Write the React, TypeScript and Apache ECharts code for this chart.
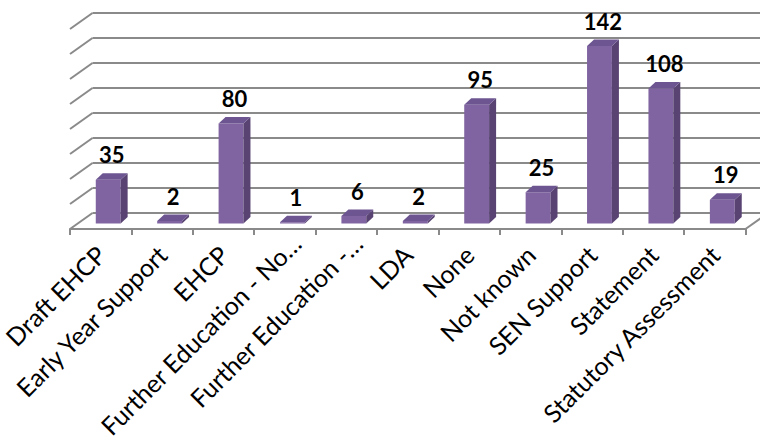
import React, { useEffect, useRef } from "react";
import * as echarts from "echarts";

const categories = [
  "Draft EHCP",
  "Early Year Support",
  "EHCP",
  "Further Education - No…",
  "Further Education -…",
  "LDA",
  "None",
  "Not known",
  "SEN Support",
  "Statement",
  "Statutory Assessment",
];
const counts = [35, 2, 80, 1, 6, 2, 95, 25, 142, 108, 19];
const gridValues = [0, 20, 40, 60, 80, 100, 120, 140, 160];

// oblique projection offsets (pixels)
const WALL_DX = 22.5;
const WALL_DY = -16;
const BAR_FRONT_DX = 7.5;
const BAR_FRONT_DY = -5.5;
const BAR_DEPTH_DX = 7;
const BAR_DEPTH_DY = -6.5;
const BAR_WIDTH_RATIO = 0.405;

const GRID_COLOR = "#8a8a8a";
const FRONT_COLOR = "#8064a2";
const SIDE_COLOR = "#584372";
const TOP_COLOR = "#6c5590";

export default function App() {
  const ref = useRef<HTMLDivElement>(null);

  useEffect(() => {
    document.body.style.margin = "0";
    if (!ref.current) return;
    const chart = echarts.init(ref.current, undefined, { renderer: "svg" });

    const wallItem = (params: any, api: any) => {
      const v = api.value(1);
      const cs = params.coordSys;
      const y = api.coord([0, v])[1];
      const xL = cs.x;
      const xR = cs.x + cs.width;
      const style = { stroke: GRID_COLOR, lineWidth: 2 };
      const children: any[] = [
        {
          type: "line",
          shape: { x1: xL, y1: y, x2: xL + WALL_DX, y2: y + WALL_DY },
          style,
        },
        {
          type: "line",
          shape: { x1: xL + WALL_DX, y1: y + WALL_DY, x2: xR + WALL_DX, y2: y + WALL_DY },
          style,
        },
      ];
      if (v === 0) {
        children.push({
          type: "line",
          shape: { x1: xR, y1: y, x2: xR + WALL_DX, y2: y + WALL_DY },
          style,
        });
      }
      return { type: "group", children };
    };

    const barItem = (params: any, api: any) => {
      const i = api.value(0);
      const v = api.value(1);
      const [xc, yTop] = api.coord([i, v]);
      const yBase = api.coord([i, 0])[1];
      const bw = api.size([1, 0])[0] * BAR_WIDTH_RATIO;
      const x0 = xc - bw / 2 + BAR_FRONT_DX;
      const x1 = x0 + bw;
      const yb = yBase + BAR_FRONT_DY;
      const yt = yTop + BAR_FRONT_DY;
      const dx = BAR_DEPTH_DX;
      const dy = BAR_DEPTH_DY;
      return {
        type: "group",
        children: [
          {
            type: "polygon",
            shape: { points: [[x0, yb], [x1, yb], [x1, yt], [x0, yt]] },
            style: { fill: FRONT_COLOR },
          },
          {
            type: "polygon",
            shape: { points: [[x1, yb], [x1 + dx, yb + dy], [x1 + dx, yt + dy], [x1, yt]] },
            style: { fill: SIDE_COLOR },
          },
          {
            type: "polygon",
            shape: { points: [[x0, yt], [x1, yt], [x1 + dx, yt + dy], [x0 + dx, yt + dy]] },
            style: { fill: TOP_COLOR },
          },
          {
            type: "text",
            style: {
              text: String(v),
              x: (x0 + x1) / 2 + dx / 2,
              y: yt - 25,
              textAlign: "center",
              textVerticalAlign: "middle",
              fontFamily: "Lato",
              fontWeight: "bold",
              fontSize: 22,
              fill: "#000",
            },
          },
        ],
      };
    };

    // shortened names (ending in an ellipsis) sit a little further along the slant
    const axisData = categories.map((name) =>
      name.endsWith("…")
        ? { value: name, textStyle: { padding: [0, -16, 0, 0] } }
        : name
    );

    chart.setOption({
      animation: false,
      backgroundColor: "#fff",
      grid: {
        left: 70,
        right: 14.5,
        top: 29,
        bottom: 208,
        containLabel: false,
        outerBoundsMode: "none",
      },
      xAxis: {
        type: "category",
        data: axisData,
        axisLine: { show: true, lineStyle: { color: GRID_COLOR, width: 2 } },
        axisTick: {
          show: true,
          alignWithLabel: false,
          length: 6,
          lineStyle: { color: GRID_COLOR, width: 2 },
        },
        axisLabel: {
          interval: 0,
          rotate: 45,
          margin: 21,
          fontFamily: "Lato",
          fontSize: 25,
          color: "#000",
        },
        splitLine: { show: false },
      },
      yAxis: {
        type: "value",
        min: 0,
        max: 160,
        interval: 20,
        show: false,
        splitLine: { show: false },
      },
      series: [
        {
          type: "custom",
          name: "walls",
          data: gridValues.map((v) => [0, v]),
          renderItem: wallItem,
          silent: true,
          z: 1,
        },
        {
          type: "custom",
          name: "count",
          data: counts.map((c, i) => [i, c]),
          renderItem: barItem,
          z: 2,
        },
      ],
    });

    return () => chart.dispose();
  }, []);

  return <div ref={ref} style={{ width: 760, height: 437 }} />;
}
